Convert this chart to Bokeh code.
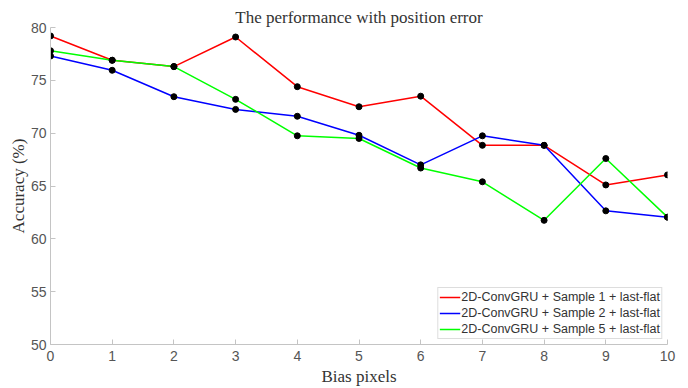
from bokeh.plotting import figure
from bokeh.embed import file_html
from bokeh.resources import INLINE
from bokeh.models import FixedTicker, Range1d

bias = [0, 1, 2, 3, 4, 5, 6, 7, 8, 9, 10]
sample1 = [79.2, 76.9, 76.3, 79.1, 74.4, 72.5, 73.5, 68.85, 68.85, 65.1, 66.05]
sample2 = [77.3, 75.95, 73.45, 72.25, 71.6, 69.8, 67.0, 69.75, 68.85, 62.65, 62.05]
sample5 = [77.8, 76.9, 76.3, 73.2, 69.75, 69.5, 66.7, 65.4, 61.75, 67.6, 62.05]
labels = ["2D-ConvGRU + Sample 1 + last-flat",
          "2D-ConvGRU + Sample 2 + last-flat",
          "2D-ConvGRU + Sample 5 + last-flat"]
colors = ["#ff0000", "#0000ff", "#00ff00"]
y_ticks = [50, 55, 60, 65, 70, 75, 80]

p = figure(width=688, height=388, output_backend="svg", toolbar_location=None,
           x_range=Range1d(0, 10), y_range=Range1d(50, 80),
           title="The performance with position error",
           min_border_left=50, min_border_right=21, min_border_top=27, min_border_bottom=44)

p.title.text_font = "Liberation Serif"
p.title.text_font_size = "17px"
p.title.text_font_style = "normal"
p.title.text_color = "#333333"
p.title.align = "center"
p.title.standoff = 2
p.title.offset = 0

for ys, c, lab in zip([sample1, sample2, sample5], colors, labels):
    p.line(bias, ys, line_color=c, line_width=1.5, legend_label=lab)
for ys in [sample1, sample2, sample5]:
    p.scatter(bias, ys, size=6, fill_color="black", line_color="black")

p.grid.visible = False
p.outline_line_color = None

for ax in [p.xaxis[0], p.yaxis[0]]:
    ax.axis_line_color = "#c4c4c4"
    ax.major_tick_line_color = "#c4c4c4"
    ax.major_tick_in = 5
    ax.major_tick_out = 0
    ax.minor_tick_line_color = None
    ax.major_label_text_font = "Liberation Sans"
    ax.major_label_text_font_size = "14px"
    ax.major_label_text_color = "#555555"
    ax.axis_label_text_font = "Liberation Serif"
    ax.axis_label_text_font_size = "17px"
    ax.axis_label_text_font_style = "normal"
    ax.axis_label_text_color = "#333333"

p.xaxis.ticker = FixedTicker(ticks=bias)
p.yaxis.ticker = FixedTicker(ticks=y_ticks)
p.xaxis.axis_label = "Bias pixels"
p.yaxis.axis_label = "Accuracy (%)"
p.xaxis.major_label_standoff = 6
p.yaxis.major_label_standoff = 4
p.xaxis.axis_label_standoff = 3
p.yaxis.axis_label_standoff = 0

lg = p.legend[0]
lg.location = "bottom_right"
lg.margin = 5
lg.padding = 1
lg.spacing = 0
lg.label_height = 16
lg.glyph_height = 16
lg.glyph_width = 21
lg.label_standoff = 1
lg.label_text_font = "Liberation Sans"
lg.label_text_font_size = "12.5px"
lg.label_text_color = "#333333"
lg.border_line_color = "#bbbbbb"
lg.background_fill_alpha = 1.0

open("out.html", "w").write(file_html(p, INLINE))
